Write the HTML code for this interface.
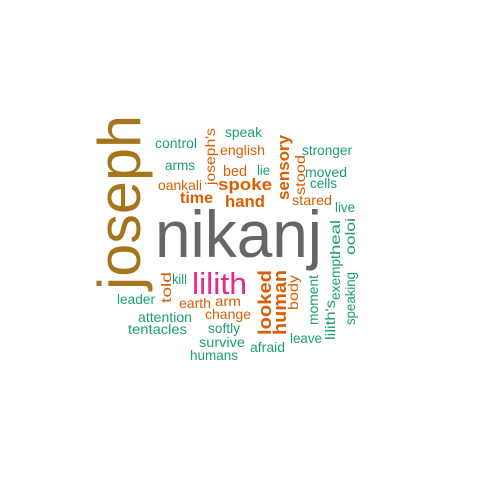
<!DOCTYPE html>
<html><head><meta charset="utf-8"><style>
html,body{margin:0;padding:0;background:#fff;}
svg{display:block;font-family:"Liberation Sans",sans-serif;}
</style></head><body>
<svg id="cloud" width="480" height="480" viewBox="0 0 480 480"></svg>
<script>
const words = ["joseph","nikanj","lilith","spoke","hand","time","oankali","control","arms","joseph's","speak","english","bed","lie","sensory","stood","stronger","moved","cells","stared","live","heal","exempt","ooloi","looked","human","body","moment","lilith's","speaking","leave","afraid","told","kill","leader","earth","arm","attention","change","tentacles","softly","survive","humans"];
const freqs = [60,66,31,17,17,16,14,14,14,14,14,14,15,14,17,14,14,14,14,14,14,14,14,14,18,18,14,14,14,14,14,14,14,14,14,14,14,14,14,14,14,14,14];
const colors = ["#A6761D","#666666","#E7298A","#D95F02","#D95F02","#D95F02","#D95F02","#1B9E77","#1B9E77","#D95F02","#1B9E77","#D95F02","#D95F02","#1B9E77","#D95F02","#D95F02","#1B9E77","#1B9E77","#1B9E77","#D95F02","#1B9E77","#1B9E77","#1B9E77","#1B9E77","#D95F02","#D95F02","#D95F02","#1B9E77","#1B9E77","#1B9E77","#1B9E77","#1B9E77","#D95F02","#1B9E77","#1B9E77","#D95F02","#D95F02","#1B9E77","#D95F02","#1B9E77","#1B9E77","#1B9E77","#1B9E77"];
const bold = [0,0,0,1,1,1,0,0,0,0,0,0,0,0,1,0,0,0,0,0,0,0,0,0,1,1,0,0,0,0,0,0,0,0,0,0,0,0,0,0,0,0,0];
const vertical = [1,0,0,0,0,0,0,0,0,1,0,0,0,0,1,1,0,0,0,0,0,1,1,1,1,1,1,1,1,1,0,0,1,0,0,0,0,0,0,0,0,0,0];
const posX = [140,155,192,218,225,180,158,155,165,215,225,220,223,257,289,305,302,305,310,292,335,340,340,355,271,286,298,318,335,355,290,250,171,172,117,179,215,138,205,128,208,199,190];
const posY = [290,257,294,190,207,203,190,148,170,185,137,155,176,175,200,195,155,177,188,205,212,255,300,255,335,335,310,325,340,325,343,352,303,284,304,308,306,322,319,334,333,347,360];
const lens = [175,167,55,54,40,33,44,42,30,57,37,45,24,13,65,40,50,42,27,40,20,35,45,37,65,65,35,50,40,53,32,35,31,15,38,32,26,54,46,59,32,46,48];
const svg = document.getElementById('cloud');
const NS = 'http://www.w3.org/2000/svg';
words.forEach((w,i)=>{
  const t = document.createElementNS(NS,'text');
  
  
  t.setAttribute('x', posX[i]);
  t.setAttribute('y', posY[i]);
  t.setAttribute('font-size', freqs[i]);
  t.setAttribute('fill', colors[i]);
  if (bold[i]) t.setAttribute('font-weight', 'bold');
  t.setAttribute('textLength', lens[i]);
  t.setAttribute('lengthAdjust', 'spacingAndGlyphs');
  if (vertical[i]) t.setAttribute('transform', 'rotate(-90 ' + posX[i] + ' ' + posY[i] + ')');
  t.textContent = w;
  svg.appendChild(t);
});
</script>
</body></html>
